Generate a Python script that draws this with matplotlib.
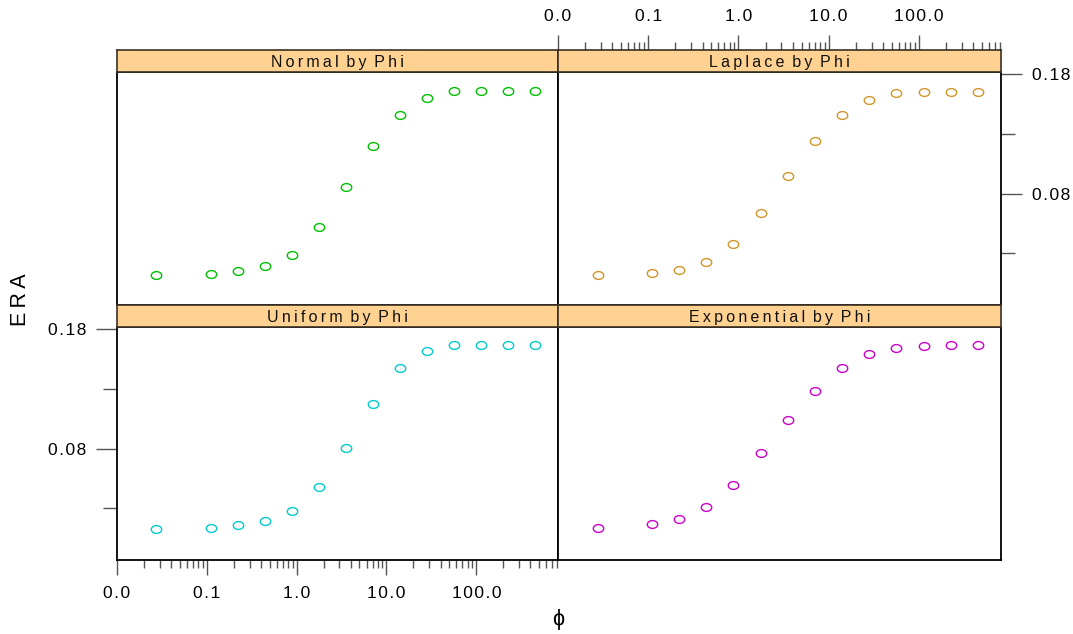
import matplotlib
matplotlib.use('Agg')
import matplotlib.pyplot as plt
import matplotlib.ticker as mticker
from matplotlib.path import Path
from matplotlib.transforms import Affine2D

plt.rcParams['font.family'] = ['Liberation Sans', 'DejaVu Sans']

# Data
phi = [0.0275, 0.11, 0.22, 0.44, 0.88, 1.76, 3.52, 7.04, 14.1, 28.2, 56.3, 113, 225, 451]
era_normal = [0.0118, 0.0126, 0.0151, 0.0193, 0.0285, 0.052, 0.0855, 0.1199, 0.1459, 0.160,
              0.166, 0.166, 0.166, 0.166]
era_laplace = [0.0115, 0.0134, 0.0162, 0.0227, 0.0378, 0.064, 0.095, 0.1241, 0.1459, 0.1585,
               0.1643, 0.1654, 0.1654, 0.1654]
era_uniform = [0.0126, 0.0134, 0.0160, 0.0193, 0.0277, 0.0478, 0.0805, 0.1174, 0.1476, 0.1618,
               0.1669, 0.1669, 0.1669, 0.1669]
era_expon = [0.0134, 0.0168, 0.0210, 0.0311, 0.0496, 0.0763, 0.104, 0.1283, 0.1476, 0.1593,
             0.1644, 0.166, 0.1669, 0.1669]

panel_titles = ['Normal by Phi', 'Laplace by Phi', 'Uniform by Phi', 'Exponential by Phi']
panel_data = [era_normal, era_laplace, era_uniform, era_expon]
panel_colors = ['#00C000', '#D0962A', '#00CCCC', '#CC00CC']

W, H = 1073, 634
XLIM = (0.01, 10 ** 2.91)
YLIM = (-0.0134, 0.1819)
TS = '\u2009'
HS = '\u200a'


def spaced(s, sep=TS):
    return sep.join(s)


def rect(x0, y0, x1, y1):
    return [x0 / W, 1 - y1 / H, (x1 - x0) / W, (y1 - y0) / H]


ellipse = Affine2D().scale(1, 0.75).transform_path(Path.unit_circle())

fig = plt.figure(figsize=(W / 100, H / 100), dpi=100)

cols = [(117, 558), (558, 1001)]
rows = [((50, 72), (72, 305)), ((305, 327), (327, 560))]

strip_axes = []
panel_axes = []
for i in range(4):
    r, c = divmod(i, 2)
    (sy0, sy1), (py0, py1) = rows[r]
    x0, x1 = cols[c]

    ax = fig.add_axes(rect(x0, py0, x1, py1))
    ax.plot(phi, panel_data[i], linestyle='none', marker=ellipse, ms=7.5,
            mfc='none', mec=panel_colors[i], mew=1.0)
    ax.set_xscale('log')
    ax.set_xlim(XLIM)
    ax.set_ylim(YLIM)
    ax.tick_params(which='both', left=False, bottom=False, labelleft=False,
                   labelbottom=False)
    for sp in ax.spines.values():
        sp.set_linewidth(1.3)
        sp.set_color('black')

    sax = fig.add_axes(rect(x0, sy0, x1, sy1))
    sax.set_facecolor('#FFD292')
    sax.set_xscale('log')
    sax.set_xlim(XLIM)
    sax.set_ylim(0, 1)
    sax.tick_params(which='both', left=False, bottom=False, labelleft=False,
                    labelbottom=False)
    for sp in sax.spines.values():
        sp.set_linewidth(1.2)
        sp.set_color('#3a3025')
    sax.text(0.5, 0.45, spaced(panel_titles[i]).replace(TS + ' ' + TS, TS + ' '),
             transform=sax.transAxes, ha='center', va='center', fontsize=11.5,
             color='#111111')
    panel_axes.append(ax)
    strip_axes.append(sax)

x_major = [0.01, 0.1, 1, 10, 100]
x_fmt = mticker.FuncFormatter(lambda v, p: spaced('%.1f' % v, HS))
y_major = [0.08, 0.18]
y_minor = [0.03, 0.13]
y_fmt = mticker.FuncFormatter(lambda v, p: spaced('%.2f' % v, HS))


def setup_x(a, where):
    a.xaxis.set_major_locator(mticker.FixedLocator(x_major))
    a.xaxis.set_minor_locator(mticker.LogLocator(subs=range(2, 10), numticks=20))
    a.xaxis.set_major_formatter(x_fmt)
    a.xaxis.set_minor_formatter(mticker.NullFormatter())
    a.xaxis.set_ticks_position(where)
    a.tick_params(axis='x', which='major', direction='out', length=11, width=1,
                  color='#555555', labelsize=12.5, pad=8)
    a.tick_params(axis='x', which='minor', direction='out', length=6, width=1,
                  color='#555555')
    if where == 'top':
        a.tick_params(axis='x', which='both', top=True, labeltop=True)
    else:
        a.tick_params(axis='x', which='both', bottom=True, labelbottom=True)


def setup_y(a, where):
    a.yaxis.set_major_locator(mticker.FixedLocator(y_major))
    a.yaxis.set_minor_locator(mticker.FixedLocator(y_minor))
    a.yaxis.set_major_formatter(y_fmt)
    a.yaxis.set_minor_formatter(mticker.NullFormatter())
    a.yaxis.set_ticks_position(where)
    a.tick_params(axis='y', which='major', direction='out', length=15, width=1,
                  color='#555555', labelsize=12.5, pad=7)
    a.tick_params(axis='y', which='minor', direction='out', length=10, width=1,
                  color='#555555')
    if where == 'right':
        a.tick_params(axis='y', which='both', right=True, labelright=True)
    else:
        a.tick_params(axis='y', which='both', left=True, labelleft=True)


# Uniform panel: bottom and left axes
setup_x(panel_axes[2], 'bottom')
setup_y(panel_axes[2], 'left')
# Laplace panel: top axis sits above the strip, right axis on the panel
setup_x(strip_axes[1], 'top')
setup_y(panel_axes[1], 'right')

fig.text(20 / W, 1 - 300 / H, spaced('ERA'), rotation=90, ha='center', va='center',
         fontsize=15.5)
fig.text(558 / W, 1 - 620 / H, '\u03d5', ha='center', va='center', fontsize=15.5)

plt.savefig('out.png', dpi=100)
